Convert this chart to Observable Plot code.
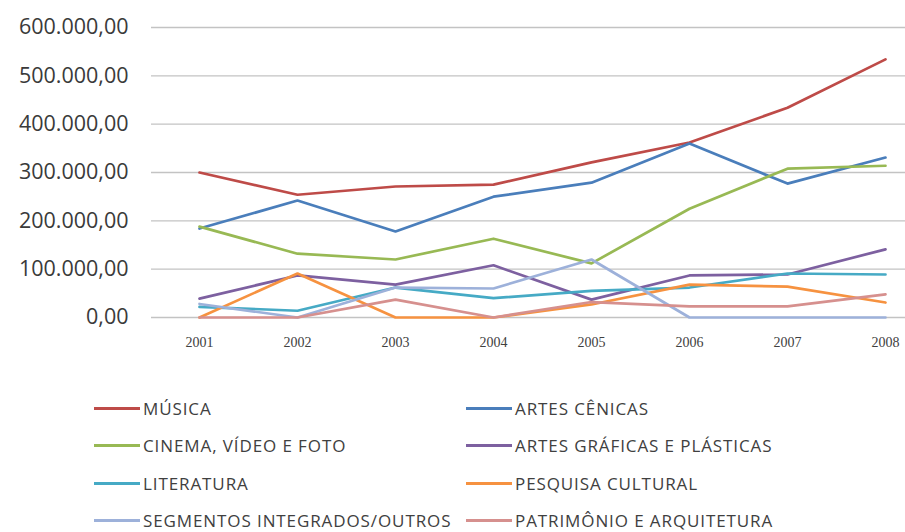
<!DOCTYPE html>
<html><head><meta charset="utf-8">
<script src="https://cdn.jsdelivr.net/npm/d3@7"></script>
<script src="https://cdn.jsdelivr.net/npm/@observablehq/plot@0.6"></script>
<style>
html,body{margin:0;background:#fff;font-family:"Open Sans",sans-serif;overflow:hidden;}
#legend{display:grid;grid-template-columns:372px auto;padding-left:94px;margin-top:30px;}
.item{display:flex;align-items:center;height:37.3px;font-size:17px;letter-spacing:0.9px;color:#404040;white-space:nowrap;}
.sw{width:46px;height:3px;margin-right:3px;flex:none;}
</style></head><body><div id="chart"></div><div id="legend"></div>
<script>
const years = [2001, 2002, 2003, 2004, 2005, 2006, 2007, 2008];
const yTicks = [0, 100000, 200000, 300000, 400000, 500000, 600000];
const names = ["MÚSICA", "ARTES CÊNICAS", "CINEMA, VÍDEO E FOTO", "ARTES GRÁFICAS E PLÁSTICAS", "LITERATURA", "PESQUISA CULTURAL", "SEGMENTOS INTEGRADOS/OUTROS", "PATRIMÔNIO E ARQUITETURA"];
const colors = ["#BE4B48", "#4A7EBB", "#98B954", "#7D60A0", "#46AAC5", "#F69240", "#9DB1DA", "#D6908E"];
const musica        = [300000, 254000, 271000, 275000, 321000, 362000, 434000, 534000];
const artesCenicas  = [184000, 242000, 178000, 250000, 279000, 360000, 277000, 331000];
const cinema        = [188000, 132000, 120000, 163000, 112000, 225000, 308000, 314000];
const artesGraficas = [39000, 87000, 68000, 108000, 37000, 87000, 89000, 141000];
const literatura    = [22000, 14000, 62000, 40000, 55000, 62000, 91000, 89000];
const pesquisa      = [0, 91000, 0, 0, 27000, 68000, 64000, 31000];
const segmentos     = [28000, 0, 62000, 60000, 120000, 0, 0, 0];
const patrimonio    = [0, 0, 37000, 0, 32000, 23000, 23000, 48000];
const seriesValues = [musica, artesCenicas, cinema, artesGraficas, literatura, pesquisa, segmentos, patrimonio];

const data = [];
names.forEach((n, k) => years.forEach((y, i) => data.push({year: y, value: seriesValues[k][i], name: n})));

const fmt = d3.formatLocale({decimal: ",", thousands: ".", grouping: [3], currency: ["R$", ""]}).format(",.2f");

const plot = Plot.plot({
  width: 905, height: 360,
  marginLeft: 151, marginRight: 0, marginTop: 20, marginBottom: 43,
  style: {background: "#fff", overflow: "visible"},
  x: {type: "point", domain: years, range: [198, 885], padding: 0, label: null},
  y: {domain: [0, 600000], range: [317, 27], label: null},
  color: {domain: names, range: colors},
  marks: [
    Plot.ruleY(yTicks, {stroke: "#c3c3c3", strokeWidth: 1.3}),
    Plot.axisY(yTicks, {tickSize: 0, tickPadding: 23, tickFormat: fmt, fontSize: 21.5, fill: "#3a3a3a", fontFamily: "Open Sans", label: null}),
    Plot.axisX(years, {tickSize: 0, tickPadding: 20, fontSize: 14, fontFamily: "Liberation Serif", fill: "#404040", label: null, tickFormat: d => String(d)}),
    Plot.line(data, {x: "year", y: "value", z: "name", stroke: "name", strokeWidth: 2.7})
  ]
});
document.getElementById("chart").appendChild(plot);

const legend = document.getElementById("legend");
names.forEach((n, k) => {
  const it = document.createElement("div");
  it.className = "item";
  const sw = document.createElement("span");
  sw.className = "sw";
  sw.style.background = colors[k];
  it.appendChild(sw);
  it.appendChild(document.createTextNode(n));
  legend.appendChild(it);
});
</script></body></html>
